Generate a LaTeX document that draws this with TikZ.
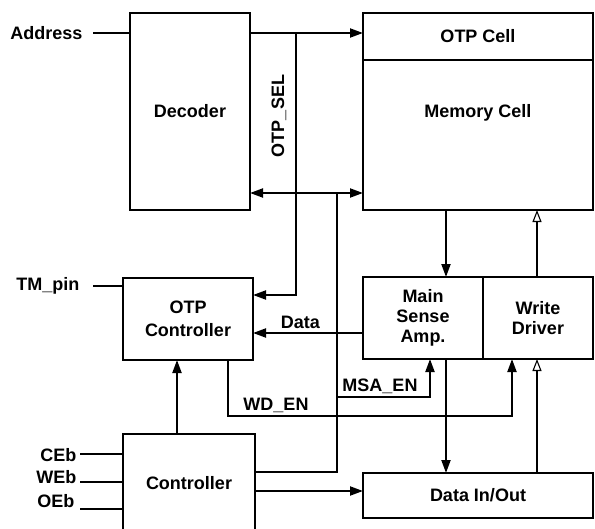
\documentclass[tikz,border=0pt]{standalone}
\usepackage{fontspec}
\setmainfont{Liberation Sans}
\usetikzlibrary{arrows.meta}

\begin{document}
\begin{tikzpicture}[x=1pt, y=-1pt, >={Triangle[length=13pt,width=9pt]},
  every node/.style={font=\bfseries\fontsize{18}{20}\selectfont},
  blk/.style={draw, line width=2pt, inner sep=0pt, outer sep=0pt, align=center},
  sig/.style={line width=2pt},
  wr/.style={line width=2pt, -{Triangle[open, length=12pt, width=9pt, line width=1.1pt, fill=white]}}]

  \useasboundingbox (0,0) rectangle (595,528);
  \clip (0,0) rectangle (595,528);

  % --- 1. ブロック ---
  \node[blk, minimum width=120, minimum height=197] (dec) at (190,111.5) {Decoder};
  \node[blk, minimum width=230, minimum height=47] (otpcell) at (478,36.5) {OTP Cell};
  \node[blk, minimum width=230, minimum height=150, anchor=north] (memcell) at (otpcell.south) {};
  \node (memtxt) at (478,113) {Memory Cell};

  \node[blk, minimum width=120, minimum height=82] (msa) at (423,318) {Main\\Sense\\Amp.};
  \node[blk, minimum width=110, minimum height=82] (wd) at (538,318) {Write\\Driver};
  \node[blk, minimum width=130, minimum height=82] (otpc) at (188,319) {OTP\\[3pt]Controller};

  % Controller : 下辺は図の外
  \node[blk, minimum width=132, minimum height=98] (ctrl) at (189,483) {Controller};
  \node[blk, minimum width=230, minimum height=45] (dio) at (478,495.5) {Data In/Out};

  % --- 2. 入力端子 ---
  \node[anchor=east] (addr) at (86,33) {Address};
  \node[anchor=east] (tm) at (83,286) {TM\_pin};
  \node[anchor=east] (ceb) at (80,455) {CEb};
  \node[anchor=east] (web) at (80,477) {WEb};
  \node[anchor=east] (oeb) at (78,501) {OEb};

  \coordinate (addrin) at ([xshift=7pt]addr.east);
  \coordinate (tmin) at ([xshift=10pt]tm.east);
  \coordinate (cebin) at ([yshift=1pt]ceb.east);
  \coordinate (webin) at ([yshift=-5pt]web.east);
  \coordinate (oebin) at ([xshift=2pt,yshift=-8pt]oeb.east);

  \draw[sig] (addrin) -- (addrin -| dec.west);
  \draw[sig] (tmin) -- (tmin -| otpc.west);
  \draw[sig] (cebin) -- (cebin -| ctrl.west);
  \draw[sig] (webin) -- (webin -| ctrl.west);
  \draw[sig] (oebin) -- (oebin -| ctrl.west);

  % --- 3. Decoder -> OTP Cell と OTP_SEL ---
  \draw[sig, ->] (addrin -| dec.east) -- (addrin -| otpcell.west);

  \coordinate (selx) at (296,33);
  \coordinate (selturn) at (296,295);
  \draw[sig, ->] (selx) -- (selturn) -- (selturn -| otpc.east);
  \node[rotate=90] (sellbl) at (279,116) {OTP\_SEL};

  % --- 4. Controller からのバス ---
  \coordinate (busx) at (337,193);
  \coordinate (busbot) at (337,472);
  \draw[sig, <->] (busx -| dec.east) -- (busx -| memcell.west);
  \draw[sig] (busx) -- (busbot) -- (busbot -| ctrl.east);

  % MSA_EN
  \coordinate (msal) at (337,397);
  \coordinate (msar) at (430,397);
  \draw[sig, ->] (msal) -- (msar) -- (msar |- msa.south);
  \node (msalbl) at (380,386) {MSA\_EN};

  % --- 5. Data, WD_EN ---
  \coordinate (datay) at (300,333);
  \draw[sig, ->] (datay -| msa.west) -- (datay -| otpc.east)
    node[pos=0.57, above] (datalbl) {Data};

  \coordinate (wdl) at (228,416);
  \coordinate (wdr) at (512,416);
  \draw[sig, ->] (wdl |- otpc.south) -- (wdl) -- (wdr) -- (wdr |- wd.south);
  \node (wdlbl) at (276,405) {WD\_EN};

  \draw[sig, ->] ([xshift=-12pt]ctrl.north) -- ([xshift=-12pt]ctrl.north |- otpc.south);

  % --- 6. 読み出し / 書き込み ---
  \coordinate (rdcol) at (446,250);
  \coordinate (wrcol) at (537,250);
  \draw[sig, ->] (rdcol |- memcell.south) -- (rdcol |- msa.north);
  \draw[wr] (wrcol |- wd.north) -- (wrcol |- memcell.south);
  \draw[sig, ->] (rdcol |- msa.south) -- (rdcol |- dio.north);
  \draw[wr] (wrcol |- dio.north) -- (wrcol |- wd.south);

  \coordinate (dioy) at (300,491);
  \draw[sig, ->] (dioy -| ctrl.east) -- (dioy -| dio.west);

\end{tikzpicture}
\end{document}
